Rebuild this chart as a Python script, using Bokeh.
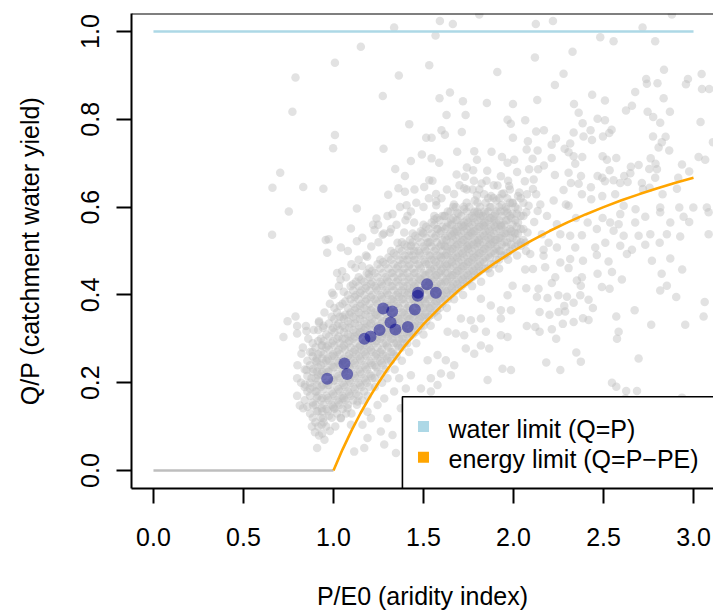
from bokeh.plotting import figure
from bokeh.models import Range1d, FixedTicker, Span
from bokeh.core.properties import value
from bokeh.embed import file_html
from bokeh.resources import INLINE

FONT = "Liberation Sans"

# ---------------- data ----------------
x_ticks = [0.0, 0.5, 1.0, 1.5, 2.0, 2.5, 3.0]
x_tick_labels = ["0.0", "0.5", "1.0", "1.5", "2.0", "2.5", "3.0"]
y_ticks = [0.0, 0.2, 0.4, 0.6, 0.8, 1.0]
y_tick_labels = ["0.0", "0.2", "0.4", "0.6", "0.8", "1.0"]

# sparse catchments, upper left
gray_a_x = [0.789, 0.772, 0.704, 0.661, 0.832, 0.944, 0.752, 0.659, 0.957]
gray_a_y = [0.895, 0.817, 0.678, 0.644, 0.646, 0.642, 0.590, 0.537, 0.525]

# upper middle
gray_b_x = [1.591, 1.663, 1.810, 1.337, 1.567, 1.152, 1.008, 1.532, 1.363, 1.910,
            1.274, 1.647, 1.589, 1.719, 1.852, 1.997, 1.628, 1.734, 1.421, 1.967,
            1.985, 1.600, 1.619, 1.713, 1.515, 1.545, 1.008, 0.998, 1.278, 1.997,
            1.491, 1.545, 1.430, 1.587, 1.687, 1.782, 1.878, 1.936, 1.797, 1.967,
            2.004, 1.343, 1.397, 1.532, 1.741, 1.684, 1.730, 1.776, 1.854, 1.361,
            1.397, 1.504, 1.726, 1.773, 1.823, 1.911, 1.976, 2.032, 1.304, 1.406,
            1.571, 1.571, 1.669, 1.724, 1.797, 1.837, 1.889, 1.945, 1.995, 1.130,
            1.328, 1.239, 1.248, 1.097, 1.228, 1.273, 1.313, 1.130, 1.041, 0.973,
            1.411, 1.448, 1.495, 1.523, 1.578, 1.615, 1.652, 1.689, 1.726, 1.763,
            1.782, 1.819, 1.837, 1.874, 1.893, 1.930, 1.967, 2.004, 2.041, 1.430,
            1.615, 1.745, 1.393, 1.356, 1.560, 1.800, 1.911, 1.671]
gray_b_y = [1.024, 1.017, 1.039, 1.009, 0.991, 0.965, 0.929, 0.923, 0.900, 0.908,
            0.853, 0.861, 0.848, 0.841, 0.837, 0.835, 0.810, 0.810, 0.789, 0.799,
            0.790, 0.775, 0.765, 0.771, 0.758, 0.758, 0.764, 0.734, 0.733, 0.758,
            0.720, 0.711, 0.705, 0.701, 0.726, 0.727, 0.726, 0.714, 0.708, 0.701,
            0.708, 0.687, 0.671, 0.661, 0.690, 0.674, 0.669, 0.684, 0.683, 0.643,
            0.635, 0.646, 0.643, 0.640, 0.654, 0.649, 0.648, 0.633, 0.628, 0.604,
            0.613, 0.604, 0.606, 0.601, 0.627, 0.629, 0.621, 0.631, 0.609, 0.597,
            0.584, 0.574, 0.560, 0.551, 0.548, 0.537, 0.542, 0.522, 0.508, 0.527,
            0.580, 0.565, 0.542, 0.519, 0.550, 0.580, 0.572, 0.587, 0.557, 0.542,
            0.587, 0.580, 0.557, 0.527, 0.572, 0.557, 0.587, 0.542, 0.512, 0.512,
            0.512, 0.512, 0.542, 0.519, 0.572, 0.519, 0.512, 0.542]

# upper right
gray_c_x = [2.124, 2.219, 2.880, 2.717, 2.482, 2.556, 2.787, 2.328, 2.119, 2.278,
            2.836, 3.045, 2.737, 2.741, 2.800, 2.969, 2.958, 3.047, 3.087, 2.230,
            2.437, 2.676, 2.132, 2.508, 2.834, 2.336, 2.658, 2.625, 2.745, 2.869,
            2.362, 2.467, 2.508, 2.776, 2.815, 3.039, 2.065, 2.384, 2.126, 2.169,
            2.334, 2.428, 2.545, 2.532, 2.236, 2.389, 2.436, 2.497, 2.775, 2.845,
            2.080, 2.212, 2.315, 2.824, 3.108, 2.073, 2.134, 2.284, 2.306, 2.806,
            2.865, 2.334, 2.382, 2.495, 2.571, 2.762, 3.028, 3.065, 2.106, 2.212,
            2.343, 2.519, 2.695, 2.652, 2.789, 2.936, 2.169, 2.087, 2.137, 2.306,
            2.534, 2.649, 2.754, 2.797, 2.976, 2.230, 2.375, 2.467, 2.493, 2.556,
            2.615, 2.787, 2.915, 2.063, 2.112, 2.319, 2.362, 2.508, 2.593, 2.634,
            2.713, 2.108, 2.278, 2.430, 2.493, 2.565, 2.719, 2.756, 2.908, 2.075,
            2.126, 2.223, 2.380, 2.291, 2.432, 2.828, 2.084, 2.149, 2.306, 2.612,
            2.815, 2.921, 2.999, 3.074, 2.071, 2.134, 2.186, 2.347, 2.412, 2.495,
            2.593, 2.678, 2.732, 2.815, 2.945, 3.084, 2.115, 2.241, 2.537, 2.584,
            2.676, 2.871, 2.976, 2.078, 2.158, 2.260, 2.315, 2.380, 2.463, 2.556,
            2.612, 2.695, 2.760, 2.812, 2.852, 2.926, 3.084, 2.195, 2.241, 2.343,
            2.454, 2.510, 2.593, 2.658, 2.732, 2.065, 2.167]
gray_c_y = [1.017, 1.024, 1.039, 1.009, 0.987, 0.978, 0.978, 0.954, 0.941, 0.904,
            0.913, 0.903, 0.892, 0.881, 0.882, 0.892, 0.880, 0.869, 0.869, 0.878,
            0.856, 0.862, 0.844, 0.843, 0.848, 0.835, 0.831, 0.820, 0.817, 0.817,
            0.815, 0.801, 0.798, 0.805, 0.792, 0.794, 0.798, 0.791, 0.772, 0.775,
            0.770, 0.775, 0.776, 0.769, 0.756, 0.761, 0.753, 0.761, 0.761, 0.760,
            0.750, 0.742, 0.745, 0.748, 0.748, 0.731, 0.729, 0.733, 0.725, 0.736,
            0.729, 0.716, 0.714, 0.716, 0.712, 0.711, 0.714, 0.708, 0.710, 0.712,
            0.699, 0.708, 0.696, 0.692, 0.699, 0.697, 0.695, 0.686, 0.686, 0.678,
            0.684, 0.677, 0.687, 0.686, 0.681, 0.673, 0.671, 0.671, 0.667, 0.661,
            0.671, 0.667, 0.667, 0.659, 0.663, 0.655, 0.653, 0.659, 0.655, 0.657,
            0.655, 0.641, 0.639, 0.645, 0.625, 0.629, 0.641, 0.644, 0.642, 0.629,
            0.629, 0.615, 0.629, 0.606, 0.618, 0.629, 0.603, 0.606, 0.603, 0.603,
            0.599, 0.599, 0.599, 0.599, 0.588, 0.591, 0.580, 0.575, 0.565, 0.575,
            0.584, 0.595, 0.578, 0.588, 0.578, 0.588, 0.566, 0.561, 0.565, 0.561,
            0.565, 0.565, 0.566, 0.542, 0.538, 0.538, 0.535, 0.536, 0.550, 0.546,
            0.535, 0.535, 0.538, 0.519, 0.538, 0.533, 0.538, 0.519, 0.508, 0.508,
            0.508, 0.519, 0.512, 0.503, 0.514, 0.519, 0.503]

# lower left
gray_d_x = [0.745, 0.789, 0.722, 0.798, 0.798, 0.847, 0.850, 0.919, 0.943, 0.822,
            0.884, 0.934, 0.850, 0.887, 0.798, 0.841, 0.878, 0.906, 0.915, 0.869,
            0.906, 0.798, 0.813, 0.832, 0.887, 0.934, 0.943, 0.934, 0.897, 0.937,
            0.909, 0.965]
gray_d_y = [0.340, 0.351, 0.304, 0.329, 0.312, 0.329, 0.318, 0.337, 0.325, 0.266,
            0.270, 0.285, 0.229, 0.231, 0.210, 0.196, 0.210, 0.248, 0.217, 0.187,
            0.180, 0.170, 0.148, 0.142, 0.148, 0.142, 0.119, 0.104, 0.087, 0.084,
            0.051, 0.496]

# lower middle (around the band and beyond the energy limit)
gray_e_x = [1.995, 1.967, 1.819, 1.874, 1.930, 1.986, 1.708, 1.763, 1.819, 1.930,
            1.782, 1.847, 1.930, 1.967, 1.726, 1.680, 1.634, 1.735, 1.782, 1.865,
            1.819, 1.578, 1.624, 1.523, 1.671, 1.939, 1.986, 1.856, 1.652, 1.597,
            1.541, 1.430, 1.365, 1.486, 1.402, 1.337, 1.282, 1.300, 1.208, 1.245,
            1.189, 1.263, 1.189, 1.282, 1.347, 1.411, 1.328, 1.171, 1.115, 1.161,
            1.134, 1.078, 1.097, 1.041, 1.004, 1.050, 1.430, 1.374, 1.541, 1.578,
            1.048, 0.992, 1.057, 1.122, 1.159, 1.196, 1.109, 1.039, 1.187]
gray_e_y = [0.421, 0.399, 0.391, 0.376, 0.365, 0.365, 0.346, 0.342, 0.346, 0.346,
            0.323, 0.316, 0.308, 0.304, 0.308, 0.312, 0.316, 0.278, 0.266, 0.278,
            0.285, 0.263, 0.251, 0.251, 0.240, 0.232, 0.229, 0.206, 0.217, 0.221,
            0.210, 0.217, 0.210, 0.187, 0.187, 0.180, 0.164, 0.119, 0.119, 0.149,
            0.134, 0.089, 0.074, 0.059, 0.040, 0.025, 0.081, 0.051, 0.043, 0.104,
            0.157, 0.142, 0.104, 0.119, 0.142, 0.164, 0.127, 0.142, 0.180, 0.195,
            0.454, 0.405, 0.407, 0.462, 0.466, 0.447, 0.424, 0.435, 0.487]

# lower right
gray_f_x = [2.093, 2.167, 2.315, 2.386, 2.463, 2.528, 2.630, 2.769, 2.871, 2.937,
            2.108, 2.176, 2.260, 2.306, 2.065, 2.232, 2.213, 2.352, 2.380, 2.374,
            2.467, 2.547, 2.602, 2.491, 2.534, 2.823, 2.852, 2.815, 2.904, 3.062,
            2.071, 2.139, 2.130, 2.189, 2.249, 2.297, 2.371, 2.417, 2.334, 2.282,
            2.145, 2.200, 2.250, 2.287, 2.441, 2.571, 2.673, 2.765, 2.954, 3.056,
            2.074, 2.121, 2.145, 2.213, 2.274, 2.334, 2.386, 2.417, 2.237, 2.584,
            2.575, 2.349, 2.374, 2.182, 2.260, 2.695, 2.547, 2.571, 2.626, 2.686,
            2.621, 2.936]
gray_f_y = [0.493, 0.489, 0.482, 0.478, 0.491, 0.476, 0.493, 0.478, 0.483, 0.458,
            0.459, 0.463, 0.474, 0.461, 0.458, 0.440, 0.427, 0.433, 0.440, 0.421,
            0.448, 0.452, 0.435, 0.418, 0.414, 0.448, 0.421, 0.410, 0.395, 0.384,
            0.415, 0.414, 0.395, 0.393, 0.399, 0.396, 0.399, 0.389, 0.382, 0.375,
            0.361, 0.355, 0.361, 0.362, 0.370, 0.351, 0.365, 0.332, 0.332, 0.351,
            0.329, 0.327, 0.316, 0.322, 0.334, 0.338, 0.347, 0.343, 0.300, 0.316,
            0.300, 0.269, 0.248, 0.246, 0.229, 0.255, 0.200, 0.191, 0.181, 0.181,
            0.164, 0.166]

# fringe of the dense cloud (above, below and left of it)
halo_x = [1.00, 1.03, 1.07, 1.02, 1.10, 1.14, 1.08, 1.18, 1.21, 1.16, 1.25, 1.28,
          1.22, 1.32, 1.35, 1.30, 1.40, 1.43, 1.37, 1.46, 1.50, 1.53, 1.45, 1.57,
          1.60, 1.63, 1.55, 1.67, 1.70, 1.74, 1.78, 1.81, 1.85, 1.89, 1.93, 1.97,
          2.02,
          0.88, 0.92, 0.95, 0.98, 1.01, 1.04, 1.07, 1.10, 1.13, 1.16, 1.19, 1.23,
          1.27, 1.30, 1.34, 1.38, 1.42, 1.46, 1.50, 1.54, 1.58, 1.63, 1.67, 1.72,
          1.77, 1.82, 1.87, 1.92, 1.97, 2.02, 2.07,
          0.82, 0.80, 0.83, 0.86, 0.89, 0.92, 0.95, 0.98]
halo_y = [0.40, 0.42, 0.44, 0.45, 0.47, 0.48, 0.50, 0.49, 0.51, 0.53, 0.52, 0.54,
          0.56, 0.55, 0.56, 0.58, 0.57, 0.59, 0.60, 0.61, 0.60, 0.62, 0.64, 0.63,
          0.62, 0.64, 0.66, 0.63, 0.65, 0.64, 0.66, 0.64, 0.66, 0.65, 0.67, 0.66,
          0.68,
          0.10, 0.08, 0.07, 0.09, 0.10, 0.12, 0.13, 0.13, 0.15, 0.16, 0.17, 0.19,
          0.20, 0.21, 0.23, 0.25, 0.27, 0.29, 0.31, 0.33, 0.35, 0.37, 0.39, 0.40,
          0.42, 0.43, 0.45, 0.46, 0.48, 0.49, 0.50,
          0.20, 0.24, 0.28, 0.30, 0.32, 0.34, 0.36, 0.38]

# dense core of the cloud: columns of P/E0 with the Q/P values read in each
dense_cols = [
    (0.84, [0.16, 0.19, 0.23]),
    (0.87, [0.13, 0.17, 0.20, 0.24, 0.27]),
    (0.90, [0.11, 0.15, 0.18, 0.21, 0.25, 0.28]),
    (0.93, [0.12, 0.16, 0.19, 0.22, 0.24, 0.27, 0.30]),
    (0.96, [0.10, 0.14, 0.17, 0.20, 0.23, 0.25, 0.28, 0.31]),
    (0.99, [0.12, 0.15, 0.18, 0.21, 0.24, 0.26, 0.29, 0.32, 0.35]),
    (1.02, [0.13, 0.16, 0.19, 0.22, 0.25, 0.27, 0.30, 0.33, 0.36]),
    (1.05, [0.14, 0.17, 0.20, 0.23, 0.25, 0.28, 0.30, 0.33, 0.35, 0.38]),
    (1.08, [0.15, 0.18, 0.21, 0.24, 0.26, 0.29, 0.31, 0.34, 0.37, 0.40]),
    (1.11, [0.16, 0.19, 0.22, 0.25, 0.27, 0.30, 0.32, 0.35, 0.38, 0.41]),
    (1.14, [0.17, 0.20, 0.23, 0.26, 0.28, 0.31, 0.33, 0.36, 0.39, 0.42, 0.44]),
    (1.17, [0.18, 0.21, 0.24, 0.27, 0.29, 0.32, 0.34, 0.37, 0.40, 0.43]),
    (1.20, [0.19, 0.22, 0.25, 0.28, 0.30, 0.33, 0.35, 0.38, 0.41, 0.44, 0.46]),
    (1.23, [0.21, 0.24, 0.26, 0.29, 0.31, 0.34, 0.36, 0.39, 0.42, 0.45]),
    (1.26, [0.22, 0.25, 0.27, 0.30, 0.32, 0.35, 0.37, 0.40, 0.43, 0.46, 0.48]),
    (1.29, [0.23, 0.26, 0.29, 0.31, 0.33, 0.36, 0.38, 0.41, 0.44, 0.47]),
    (1.32, [0.25, 0.27, 0.30, 0.32, 0.34, 0.37, 0.39, 0.42, 0.45, 0.48, 0.50]),
    (1.35, [0.26, 0.29, 0.31, 0.33, 0.35, 0.38, 0.40, 0.43, 0.46, 0.49]),
    (1.38, [0.28, 0.30, 0.32, 0.34, 0.36, 0.39, 0.41, 0.44, 0.47, 0.50, 0.52]),
    (1.41, [0.29, 0.31, 0.33, 0.35, 0.37, 0.40, 0.42, 0.45, 0.48, 0.51]),
    (1.44, [0.31, 0.33, 0.35, 0.37, 0.39, 0.41, 0.43, 0.46, 0.49, 0.52, 0.54]),
    (1.47, [0.32, 0.34, 0.36, 0.38, 0.40, 0.42, 0.44, 0.47, 0.50, 0.53]),
    (1.50, [0.33, 0.35, 0.37, 0.39, 0.41, 0.43, 0.45, 0.48, 0.51, 0.54, 0.56]),
    (1.53, [0.35, 0.37, 0.39, 0.41, 0.43, 0.45, 0.47, 0.49, 0.52, 0.55]),
    (1.56, [0.36, 0.38, 0.40, 0.42, 0.44, 0.46, 0.48, 0.50, 0.53, 0.56, 0.58]),
    (1.59, [0.37, 0.39, 0.41, 0.43, 0.45, 0.47, 0.49, 0.51, 0.54, 0.57]),
    (1.62, [0.39, 0.41, 0.43, 0.45, 0.47, 0.49, 0.51, 0.53, 0.55, 0.58]),
    (1.65, [0.40, 0.42, 0.44, 0.46, 0.48, 0.50, 0.52, 0.54, 0.56, 0.59]),
    (1.68, [0.41, 0.43, 0.45, 0.47, 0.49, 0.51, 0.53, 0.55, 0.57, 0.60]),
    (1.71, [0.42, 0.44, 0.46, 0.48, 0.50, 0.52, 0.54, 0.56, 0.58]),
    (1.74, [0.43, 0.45, 0.47, 0.49, 0.51, 0.53, 0.55, 0.57, 0.59, 0.61]),
    (1.77, [0.44, 0.46, 0.48, 0.50, 0.52, 0.54, 0.56, 0.58]),
    (1.80, [0.45, 0.47, 0.49, 0.51, 0.53, 0.55, 0.57, 0.59, 0.61]),
    (1.83, [0.46, 0.48, 0.50, 0.52, 0.54, 0.56, 0.58]),
    (1.86, [0.46, 0.49, 0.51, 0.53, 0.55, 0.57, 0.59, 0.62]),
    (1.89, [0.47, 0.50, 0.52, 0.54, 0.56, 0.58]),
    (1.92, [0.48, 0.50, 0.53, 0.55, 0.57, 0.60, 0.62]),
    (1.95, [0.49, 0.52, 0.54, 0.56, 0.59]),
    (1.98, [0.50, 0.53, 0.55, 0.58, 0.61, 0.64]),
    (2.01, [0.51, 0.54, 0.57, 0.60]),
    (2.04, [0.52, 0.55, 0.58, 0.62]),
]
dense_cols_b = [
    (0.855, [0.145, 0.18, 0.215, 0.25]),
    (0.885, [0.12, 0.155, 0.19, 0.225, 0.26, 0.29]),
    (0.915, [0.10, 0.135, 0.17, 0.205, 0.235, 0.265, 0.295, 0.32]),
    (0.945, [0.11, 0.15, 0.185, 0.215, 0.245, 0.265, 0.295, 0.33]),
    (0.975, [0.125, 0.16, 0.195, 0.225, 0.25, 0.275, 0.305, 0.335]),
    (1.005, [0.14, 0.17, 0.205, 0.235, 0.26, 0.285, 0.315, 0.345, 0.37]),
    (1.035, [0.15, 0.18, 0.21, 0.24, 0.265, 0.29, 0.32, 0.35, 0.375]),
    (1.065, [0.16, 0.19, 0.22, 0.245, 0.275, 0.30, 0.325, 0.355, 0.385]),
    (1.095, [0.17, 0.20, 0.23, 0.255, 0.28, 0.305, 0.335, 0.36, 0.39, 0.42]),
    (1.125, [0.175, 0.21, 0.24, 0.265, 0.29, 0.315, 0.345, 0.37, 0.40, 0.43]),
    (1.155, [0.19, 0.22, 0.25, 0.275, 0.30, 0.325, 0.355, 0.38, 0.41, 0.435]),
    (1.185, [0.20, 0.23, 0.26, 0.285, 0.31, 0.335, 0.365, 0.39, 0.42, 0.45]),
    (1.215, [0.21, 0.24, 0.27, 0.295, 0.32, 0.345, 0.37, 0.40, 0.43, 0.455]),
    (1.245, [0.225, 0.255, 0.28, 0.305, 0.33, 0.355, 0.38, 0.41, 0.44, 0.47]),
    (1.275, [0.24, 0.265, 0.29, 0.315, 0.34, 0.365, 0.39, 0.42, 0.45, 0.475]),
    (1.305, [0.25, 0.28, 0.305, 0.325, 0.35, 0.375, 0.40, 0.43, 0.46, 0.485]),
    (1.335, [0.265, 0.29, 0.315, 0.34, 0.36, 0.385, 0.41, 0.44, 0.47, 0.495]),
    (1.365, [0.28, 0.30, 0.325, 0.345, 0.37, 0.395, 0.42, 0.45, 0.48, 0.505]),
    (1.395, [0.29, 0.315, 0.335, 0.355, 0.38, 0.405, 0.43, 0.46, 0.49, 0.515]),
    (1.425, [0.305, 0.325, 0.345, 0.365, 0.39, 0.415, 0.44, 0.47, 0.50, 0.525]),
    (1.455, [0.315, 0.335, 0.355, 0.38, 0.40, 0.425, 0.45, 0.48, 0.51, 0.535]),
    (1.485, [0.33, 0.35, 0.37, 0.39, 0.41, 0.435, 0.46, 0.49, 0.52, 0.545]),
    (1.515, [0.34, 0.36, 0.38, 0.40, 0.42, 0.445, 0.47, 0.50, 0.53, 0.555]),
    (1.545, [0.355, 0.375, 0.395, 0.415, 0.435, 0.455, 0.48, 0.51, 0.54, 0.565]),
    (1.575, [0.365, 0.385, 0.405, 0.425, 0.445, 0.465, 0.49, 0.52, 0.55, 0.575]),
    (1.605, [0.38, 0.40, 0.42, 0.44, 0.46, 0.48, 0.50, 0.525, 0.555, 0.58]),
    (1.635, [0.39, 0.41, 0.43, 0.45, 0.47, 0.49, 0.51, 0.535, 0.565, 0.59]),
    (1.665, [0.405, 0.425, 0.445, 0.465, 0.485, 0.505, 0.525, 0.545, 0.575, 0.60]),
    (1.695, [0.415, 0.435, 0.455, 0.475, 0.495, 0.515, 0.535, 0.555, 0.585]),
    (1.725, [0.425, 0.445, 0.465, 0.485, 0.505, 0.525, 0.545, 0.565, 0.595]),
    (1.755, [0.435, 0.455, 0.475, 0.495, 0.515, 0.535, 0.555, 0.575, 0.60]),
    (1.785, [0.445, 0.465, 0.485, 0.505, 0.525, 0.545, 0.565, 0.59, 0.615]),
    (1.815, [0.455, 0.475, 0.495, 0.515, 0.535, 0.555, 0.575, 0.60]),
    (1.845, [0.46, 0.485, 0.505, 0.525, 0.545, 0.565, 0.585, 0.61]),
    (1.875, [0.47, 0.495, 0.515, 0.535, 0.555, 0.575, 0.60, 0.625]),
    (1.905, [0.48, 0.505, 0.525, 0.545, 0.565, 0.59, 0.615]),
    (1.935, [0.49, 0.515, 0.535, 0.555, 0.58, 0.605, 0.63]),
    (1.965, [0.495, 0.52, 0.545, 0.57, 0.595, 0.62]),
    (1.995, [0.505, 0.53, 0.56, 0.585, 0.61]),
    (2.025, [0.515, 0.54, 0.565, 0.595, 0.625]),
    (2.055, [0.525, 0.55, 0.58, 0.61]),
]
dense_cols_c = [
    (0.908, [0.135, 0.165, 0.195, 0.225, 0.255]),
    (0.938, [0.135, 0.165, 0.195, 0.225, 0.255, 0.285]),
    (0.968, [0.135, 0.165, 0.195, 0.225, 0.255, 0.285]),
    (0.998, [0.145, 0.175, 0.205, 0.235, 0.265, 0.295, 0.325]),
    (1.028, [0.155, 0.185, 0.215, 0.245, 0.275, 0.305, 0.335]),
    (1.058, [0.165, 0.195, 0.225, 0.255, 0.285, 0.315, 0.345]),
    (1.088, [0.175, 0.205, 0.235, 0.265, 0.295, 0.325, 0.355]),
    (1.118, [0.185, 0.215, 0.245, 0.275, 0.305, 0.335, 0.365, 0.395]),
    (1.148, [0.195, 0.225, 0.255, 0.285, 0.315, 0.345, 0.375, 0.405]),
    (1.178, [0.205, 0.235, 0.265, 0.295, 0.325, 0.355, 0.385, 0.415]),
    (1.208, [0.215, 0.245, 0.275, 0.305, 0.335, 0.365, 0.395, 0.425]),
    (1.238, [0.235, 0.265, 0.295, 0.325, 0.355, 0.385, 0.415]),
    (1.268, [0.245, 0.275, 0.305, 0.335, 0.365, 0.395, 0.425]),
    (1.298, [0.255, 0.285, 0.315, 0.345, 0.375, 0.405, 0.435]),
    (1.328, [0.27, 0.30, 0.33, 0.36, 0.39, 0.42, 0.45]),
    (1.358, [0.285, 0.315, 0.345, 0.375, 0.405, 0.435, 0.465]),
    (1.388, [0.30, 0.33, 0.36, 0.39, 0.42, 0.45, 0.48]),
    (1.418, [0.315, 0.345, 0.375, 0.405, 0.435, 0.465, 0.49]),
    (1.448, [0.33, 0.36, 0.39, 0.42, 0.45, 0.48, 0.50]),
    (1.478, [0.345, 0.375, 0.405, 0.435, 0.465, 0.495]),
    (1.508, [0.355, 0.385, 0.415, 0.445, 0.475, 0.505]),
    (1.538, [0.37, 0.40, 0.43, 0.46, 0.49, 0.52]),
    (1.568, [0.385, 0.415, 0.445, 0.475, 0.505, 0.535]),
    (1.598, [0.395, 0.425, 0.455, 0.485, 0.515, 0.545]),
    (1.628, [0.405, 0.435, 0.465, 0.495, 0.525, 0.555]),
    (1.658, [0.415, 0.445, 0.475, 0.505, 0.535, 0.56]),
    (1.688, [0.425, 0.455, 0.485, 0.515, 0.545, 0.57]),
    (1.718, [0.435, 0.465, 0.495, 0.525, 0.555]),
    (1.748, [0.445, 0.475, 0.505, 0.535, 0.565]),
    (1.778, [0.455, 0.485, 0.515, 0.545, 0.575]),
    (1.808, [0.465, 0.495, 0.525, 0.555, 0.585]),
    (1.838, [0.475, 0.505, 0.535, 0.565, 0.59]),
    (1.868, [0.485, 0.515, 0.545, 0.575, 0.60]),
    (1.898, [0.495, 0.525, 0.555, 0.585]),
    (1.928, [0.50, 0.53, 0.56, 0.59]),
    (1.958, [0.51, 0.54, 0.57, 0.60]),
    (1.988, [0.515, 0.545, 0.575]),
    (2.018, [0.525, 0.555, 0.585]),
]

# highlighted catchments
blue_x = [0.965, 1.061, 1.076, 1.172, 1.206, 1.256, 1.276, 1.326, 1.317, 1.344,
          1.413, 1.452, 1.470, 1.468, 1.520, 1.569]
blue_y = [0.209, 0.244, 0.220, 0.300, 0.305, 0.320, 0.369, 0.362, 0.337, 0.321,
          0.327, 0.367, 0.405, 0.398, 0.424, 0.405]

# limits
water_x = [0.0, 3.0]
water_y = [1.0, 1.0]
flat_x = [0.0, 1.0]
flat_y = [0.0, 0.0]
energy_x = [1.0, 1.05, 1.1, 1.15, 1.2, 1.25, 1.3, 1.4, 1.5, 1.6, 1.7, 1.8, 1.9,
            2.0, 2.1, 2.2, 2.3, 2.4, 2.5, 2.6, 2.7, 2.8, 2.9, 3.0]
energy_y = [0.0, 0.0476, 0.0909, 0.1304, 0.1667, 0.2, 0.2308, 0.2857, 0.3333,
            0.375, 0.4118, 0.4444, 0.4737, 0.5, 0.5238, 0.5455, 0.5652, 0.5833,
            0.6, 0.6154, 0.6296, 0.6429, 0.6552, 0.6667]

legend_labels = ["water limit (Q=P)", "energy limit (Q=P\u2212PE)"]
legend_colors = ["#ADD8E6", "#FFA500"]

# --------------- assemble gray cloud ---------------
gx = gray_a_x + gray_b_x + gray_c_x + gray_d_x + gray_e_x + gray_f_x + halo_x
gy = gray_a_y + gray_b_y + gray_c_y + gray_d_y + gray_e_y + gray_f_y + halo_y
for cx, cys in dense_cols + dense_cols_b + dense_cols_c:
    for cy in cys:
        gx.append(cx)
        gy.append(cy)

# --------------- figure ---------------
p = figure(width=713, height=612,
           x_range=Range1d(-0.122, 3.111), y_range=Range1d(-0.041, 1.041),
           output_backend="svg", toolbar_location=None,
           min_border_left=131, min_border_right=0,
           min_border_top=13, min_border_bottom=122,
           x_axis_label="P/E0 (aridity index)",
           y_axis_label="Q/P (catchment water yield)")
p.grid.visible = False
p.outline_line_color = None
p.background_fill_color = "white"
p.border_fill_color = "white"

for ax in (p.xaxis[0], p.yaxis[0]):
    ax.axis_line_width = 2
    ax.axis_line_color = "black"
    ax.major_tick_line_width = 2
    ax.major_tick_out = 15
    ax.major_tick_in = 0
    ax.minor_tick_line_color = None
    ax.major_label_text_font = FONT
    ax.major_label_text_font_size = "25px"
    ax.major_label_text_color = "black"
    ax.axis_label_text_font = FONT
    ax.axis_label_text_font_size = "25px"
    ax.axis_label_text_font_style = "normal"
    ax.axis_label_text_color = "black"

p.xaxis.ticker = FixedTicker(ticks=x_ticks)
p.xaxis.major_label_overrides = dict(zip(x_ticks, x_tick_labels))
p.yaxis.ticker = FixedTicker(ticks=y_ticks)
p.yaxis.major_label_overrides = dict(zip(y_ticks, y_tick_labels))
p.yaxis.major_label_orientation = "parallel"
p.xaxis.major_label_standoff = 24
p.xaxis.axis_label_standoff = 33
p.yaxis.major_label_standoff = 17
p.yaxis.axis_label_standoff = 35

p.add_layout(Span(location=1.041, dimension="width", line_color="black", line_width=2))

p.scatter(gx, gy, size=8.5, fill_color="#BEBEBE", fill_alpha=0.45, line_color=None)
p.scatter(blue_x, blue_y, size=12, fill_color="#00008B", fill_alpha=0.5, line_color=None)

p.line(water_x, water_y, line_color=legend_colors[0], line_width=2.6)
p.line(flat_x, flat_y, line_color="#BEBEBE", line_width=2.6)
p.line(energy_x, energy_y, line_color=legend_colors[1], line_width=2.6)

# legend (bottom right, clipped by the frame on the right like the original)
p.quad(left=[1.383], right=[3.6], bottom=[-0.1], top=[0.168],
       fill_color="white", line_color="black", line_width=1.6)
p.scatter([1.5, 1.5], [0.100, 0.030], marker="square", size=11,
          fill_color=legend_colors, line_color=None)
p.text([1.639, 1.639], [0.094, 0.026], text=legend_labels,
       text_font=value(FONT), text_font_size="25px", text_color="black",
       text_baseline="middle", text_align="left")

open("out.html", "w").write(file_html(p, INLINE))
